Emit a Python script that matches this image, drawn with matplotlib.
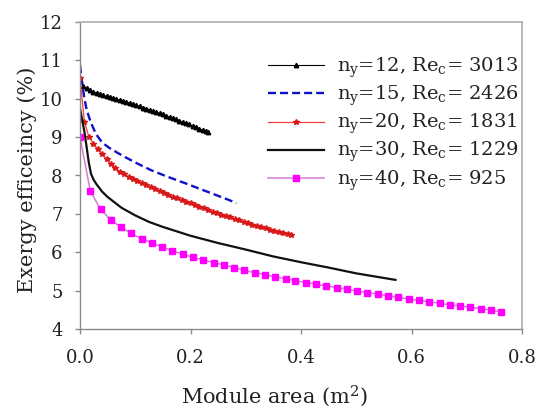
import matplotlib
matplotlib.use("Agg")
import matplotlib.pyplot as plt

# ---- data -------------------------------------------------------------
# ny = 12 (black triangles)
x_ny12 = [0.000, 0.006, 0.012, 0.018, 0.024, 0.030, 0.036, 0.042, 0.048, 0.054,
          0.060, 0.066, 0.072, 0.078, 0.084, 0.090, 0.096, 0.102, 0.108, 0.114,
          0.120, 0.126, 0.132, 0.138, 0.144, 0.150, 0.156, 0.162, 0.168, 0.174,
          0.180, 0.186, 0.192, 0.198, 0.204, 0.210, 0.216, 0.222, 0.228, 0.231]
y_ny12 = [10.48, 10.33, 10.27, 10.22, 10.18, 10.15, 10.12, 10.09, 10.06, 10.04,
          10.01, 9.99, 9.96, 9.94, 9.92, 9.89, 9.86, 9.83, 9.80, 9.77,
          9.74, 9.71, 9.68, 9.65, 9.62, 9.59, 9.56, 9.52, 9.49, 9.46,
          9.43, 9.39, 9.36, 9.33, 9.29, 9.26, 9.22, 9.18, 9.15, 9.14]

# ny = 15 (blue dashed)
x_ny15 = [0.000, 0.004, 0.008, 0.012, 0.017, 0.023, 0.029, 0.040, 0.053, 0.068,
          0.083, 0.100, 0.114, 0.130, 0.144, 0.160, 0.175, 0.192, 0.210, 0.230,
          0.250, 0.270, 0.283]
y_ny15 = [10.87, 10.40, 10.00, 9.72, 9.49, 9.27, 9.08, 8.86, 8.72, 8.59,
          8.47, 8.34, 8.24, 8.13, 8.05, 7.96, 7.88, 7.79, 7.69, 7.58,
          7.47, 7.36, 7.28]

# ny = 20 (red stars)
x_ny20 = [0.000, 0.008, 0.016, 0.024, 0.032, 0.040, 0.048, 0.056, 0.064, 0.072,
          0.080, 0.088, 0.096, 0.104, 0.112, 0.120, 0.128, 0.136, 0.144, 0.152,
          0.160, 0.168, 0.176, 0.184, 0.192, 0.200, 0.208, 0.216, 0.224, 0.232,
          0.240, 0.248, 0.256, 0.264, 0.272, 0.280, 0.288, 0.296, 0.304, 0.312,
          0.320, 0.328, 0.336, 0.344, 0.352, 0.360, 0.368, 0.376, 0.381]
y_ny20 = [10.53, 9.40, 9.01, 8.83, 8.69, 8.55, 8.42, 8.30, 8.19, 8.10,
          8.03, 7.97, 7.92, 7.86, 7.81, 7.75, 7.69, 7.64, 7.60, 7.55,
          7.50, 7.45, 7.41, 7.36, 7.32, 7.28, 7.23, 7.19, 7.15, 7.11,
          7.06, 7.02, 6.98, 6.94, 6.91, 6.87, 6.83, 6.79, 6.76, 6.72,
          6.69, 6.65, 6.62, 6.58, 6.55, 6.52, 6.50, 6.47, 6.45]

# ny = 30 (black solid)
x_ny30 = [0.000, 0.004, 0.008, 0.012, 0.016, 0.020, 0.025, 0.030, 0.040, 0.050,
          0.075, 0.100, 0.125, 0.150, 0.200, 0.250, 0.300, 0.350, 0.400, 0.450,
          0.500, 0.550, 0.571]
y_ny30 = [9.75, 9.45, 9.14, 8.74, 8.33, 8.04, 7.88, 7.77, 7.58, 7.44,
          7.16, 6.96, 6.79, 6.66, 6.43, 6.24, 6.07, 5.89, 5.74, 5.60,
          5.45, 5.33, 5.28]

# ny = 40 (magenta squares)
x_ny40 = [0.000, 0.0186, 0.0372, 0.0558, 0.0744, 0.093, 0.1115, 0.130, 0.149, 0.167,
          0.186, 0.204, 0.223, 0.242, 0.260, 0.279, 0.297, 0.316, 0.335, 0.353,
          0.372, 0.390, 0.409, 0.428, 0.446, 0.465, 0.483, 0.502, 0.520, 0.539,
          0.558, 0.576, 0.595, 0.613, 0.632, 0.651, 0.669, 0.688, 0.706, 0.725,
          0.743, 0.762]
y_ny40 = [9.00, 7.60, 7.12, 6.84, 6.65, 6.49, 6.35, 6.25, 6.14, 6.04,
          5.95, 5.87, 5.80, 5.73, 5.67, 5.60, 5.53, 5.47, 5.42, 5.36,
          5.31, 5.26, 5.21, 5.17, 5.12, 5.08, 5.04, 4.99, 4.95, 4.91,
          4.86, 4.83, 4.78, 4.75, 4.71, 4.67, 4.63, 4.60, 4.57, 4.53,
          4.49, 4.45]

labels = [r"n$\mathregular{_y}$=12, Re$\mathregular{_c}$= 3013",
          r"n$\mathregular{_y}$=15, Re$\mathregular{_c}$= 2426",
          r"n$\mathregular{_y}$=20, Re$\mathregular{_c}$= 1831",
          r"n$\mathregular{_y}$=30, Re$\mathregular{_c}$= 1229",
          r"n$\mathregular{_y}$=40, Re$\mathregular{_c}$= 925"]

x_ticks = [0.0, 0.2, 0.4, 0.6, 0.8]
y_ticks = [4, 5, 6, 7, 8, 9, 10, 11, 12]

# ---- style ------------------------------------------------------------
plt.rcParams["font.family"] = ["DejaVu Serif"]
plt.rcParams["mathtext.fontset"] = "custom"
plt.rcParams["mathtext.rm"] = "DejaVu Serif"
TICK_FS = 13
LEG_FS = 14
LAB_FS = 15
TXT = "#222222"

fig = plt.figure(figsize=(5.37, 4.11), dpi=100)
ax = fig.add_axes([80 / 537, 1 - 329 / 411, 442 / 537, 307 / 411])

ax.plot(x_ny12, y_ny12, color="black", lw=0.8, marker="^", ms=3.2,
        mec="black", mfc="black", label=labels[0])
ax.plot(x_ny15, y_ny15, color="#1010c8", lw=1.7, linestyle=(0, (3.4, 1.7)),
        label=labels[1])
ax.plot(x_ny20, y_ny20, color="#f04040", lw=0.9, marker="*", ms=4.0,
        mec="#d81818", mfc="#d81818", label=labels[2])
ax.plot(x_ny30, y_ny30, color="#111111", lw=1.6, label=labels[3])
ax.plot(x_ny40, y_ny40, color="#d67ad6", lw=1.1, marker="s", ms=4.2,
        mec="#ff00ff", mfc="#ff00ff", label=labels[4])

ax.set_xlim(0, 0.8)
ax.set_ylim(4, 12)
ax.set_xticks(x_ticks)
ax.set_xticklabels([f"{v:.1f}" for v in x_ticks])
ax.set_yticks(y_ticks)

for side in ("left", "bottom"):
    ax.spines[side].set_color("#8a8a8a")
    ax.spines[side].set_linewidth(1.0)
for side in ("top", "right"):
    ax.spines[side].set_color("#b4b4b4")
    ax.spines[side].set_linewidth(1.3)

ax.tick_params(axis="both", direction="out", length=3.5, width=1.0,
               color="#8a8a8a", labelsize=TICK_FS, labelcolor=TXT)
ax.tick_params(axis="y", pad=9)
ax.tick_params(axis="x", pad=11)

ax.set_xlabel(r"Module area (m$\mathregular{^2}$)", fontsize=LAB_FS, color=TXT)
ax.xaxis.set_label_coords((274 - 80) / 442, -(396 - 329) / 307)
ax.xaxis.label.set_va("center")
ax.set_ylabel("Exergy efficeincy (%)", fontsize=LAB_FS, color=TXT)
ax.yaxis.set_label_coords(-(80 - 27) / 442, (329 - 180) / 307)
ax.yaxis.label.set_va("center")

leg = ax.legend(loc="upper left", frameon=False, fontsize=LEG_FS,
                bbox_to_anchor=(268 / 537, 1 - 56 / 411),
                bbox_transform=fig.transFigure, borderpad=0,
                borderaxespad=0, handlelength=2.9, handletextpad=0.65,
                labelspacing=0.2)
for t in leg.get_texts():
    t.set_color(TXT)

fig.savefig("out.png", dpi=100)
